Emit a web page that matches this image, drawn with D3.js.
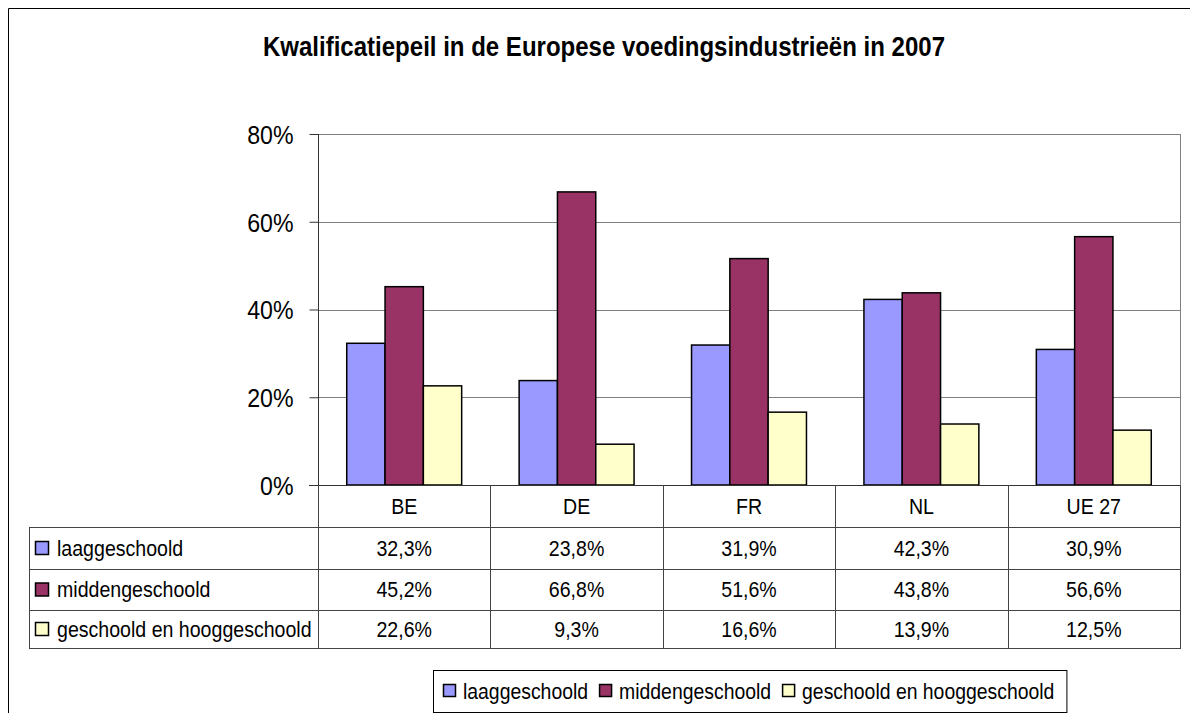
<!DOCTYPE html>
<html>
<head>
<meta charset="utf-8">
<script src="https://cdn.jsdelivr.net/npm/d3@7"></script>
<style>
  body { margin: 0; background: #fff; }
  svg text { font-family: "Liberation Sans", Arial, sans-serif; fill: #000; }
  .grid line { stroke: #808080; stroke-width: 1px; }
  .bars rect { stroke: #000; stroke-width: 1.5px; }
  .table line { stroke: #444; stroke-width: 1px; }
</style>
</head>
<body>
<svg id="chart" width="1190" height="713"></svg>
<script>
const categories = ["BE", "DE", "FR", "NL", "UE 27"];
const seriesNames = ["laaggeschoold", "middengeschoold", "geschoold en hooggeschoold"];
const laaggeschoold = [32.3, 23.8, 31.9, 42.3, 30.9];
const middengeschoold = [45.2, 66.8, 51.6, 43.8, 56.6];
const hooggeschoold = [22.6, 9.3, 16.6, 13.9, 12.5];
const yTicks = [0, 20, 40, 60, 80];
const colors = ["#9999ff", "#993366", "#ffffcc"];

const seriesValues = [laaggeschoold, middengeschoold, hooggeschoold];
const squeeze = 0.89; // the original font is a narrow sans

// squash text horizontally around its own anchor point
function narrow(sel) {
  sel.each(function() {
    const t = d3.select(this);
    const ax = +t.attr("x") || 0, ay = +t.attr("y") || 0;
    t.attr("transform", `translate(${ax},${ay}) scale(${squeeze},1) translate(${-ax},${-ay})`);
  });
}

const svg = d3.select("#chart");

// outer chart frame (only top and left visible in the picture)
svg.append("path")
  .attr("d", "M8.5,713 V8.5 H1190")
  .attr("fill", "none")
  .attr("stroke", "#000");

svg.append("text")
  .attr("x", 604)
  .attr("y", 56)
  .attr("text-anchor", "middle")
  .style("font-size", "27px")
  .style("font-weight", "bold")
  .text("Kwalificatiepeil in de Europese voedingsindustrieën in 2007")
  .call(narrow);

const plot = {left: 318, right: 1180, top: 134, bottom: 485};

const x = d3.scaleBand()
  .domain(categories)
  .range([plot.left, plot.right]);

const xInner = d3.scaleBand()
  .domain(d3.range(seriesNames.length))
  .range([0, x.bandwidth()])
  .paddingInner(0)
  .paddingOuter(0.75);

const y = d3.scaleLinear()
  .domain([0, 80])
  .range([plot.bottom, plot.top]);

// gridlines
svg.append("g")
  .attr("class", "grid")
  .selectAll("line")
  .data(yTicks.filter(d => d > 0))
  .join("line")
    .attr("x1", plot.left)
    .attr("x2", plot.right)
    .attr("y1", d => Math.round(y(d)) + 0.5)
    .attr("y2", d => Math.round(y(d)) + 0.5);

svg.append("line")
  .attr("x1", plot.right + 0.5).attr("x2", plot.right + 0.5)
  .attr("y1", plot.top).attr("y2", plot.bottom)
  .attr("stroke", "#808080");

// y axis
const yAxis = svg.append("g")
  .attr("transform", `translate(${plot.left + 0.5},0)`)
  .call(d3.axisLeft(y).tickValues(yTicks).tickSize(9).tickPadding(16).tickFormat(d => d + "%"));
yAxis.select(".domain").attr("stroke", "#333").attr("d", `M0,${plot.top}V${plot.bottom}`);
yAxis.selectAll(".tick line").attr("stroke", "#333");
yAxis.selectAll(".tick text")
  .style("font-size", "26px")
  .attr("dy", "0.36em")
  .attr("fill", "#000")
  .call(narrow);

// bars
const barData = [];
categories.forEach((c, ci) => {
  seriesValues.forEach((vals, si) => {
    barData.push({cat: c, s: si, v: vals[ci]});
  });
});

svg.append("g")
  .attr("class", "bars")
  .selectAll("rect")
  .data(barData)
  .join("rect")
    .attr("x", d => x(d.cat) + xInner(d.s))
    .attr("width", xInner.bandwidth())
    .attr("y", d => y(d.v))
    .attr("height", d => y(0) - y(d.v))
    .attr("fill", d => colors[d.s]);

// baseline
svg.append("line")
  .attr("x1", plot.left - 9).attr("x2", plot.right)
  .attr("y1", plot.bottom + 0.5).attr("y2", plot.bottom + 0.5)
  .attr("stroke", "#333");

// data table
const rowEdges = [485, 527, 569, 610, 648];
const tableLeft = 29;
const table = svg.append("g").attr("class", "table");

// horizontal rules
rowEdges.slice(1).forEach(ry => {
  table.append("line")
    .attr("x1", tableLeft).attr("x2", plot.right + 1)
    .attr("y1", ry + 0.5).attr("y2", ry + 0.5);
});
// vertical rules
const colEdges = categories.map(c => x(c)).concat([plot.right]);
colEdges.forEach(cx => {
  table.append("line")
    .attr("x1", Math.round(cx) + 0.5).attr("x2", Math.round(cx) + 0.5)
    .attr("y1", rowEdges[0]).attr("y2", rowEdges[4] + 0.5);
});
table.append("line")
  .attr("x1", tableLeft + 0.5).attr("x2", tableLeft + 0.5)
  .attr("y1", rowEdges[1]).attr("y2", rowEdges[4] + 0.5);

// header labels
table.selectAll("text.cat")
  .data(categories)
  .join("text")
    .attr("class", "cat")
    .attr("x", d => x(d) + x.bandwidth() / 2)
    .attr("y", (rowEdges[0] + rowEdges[1]) / 2)
    .attr("dy", "0.36em")
    .attr("text-anchor", "middle")
    .style("font-size", "22px")
    .text(d => d)
    .call(narrow);

const fmt = v => v.toFixed(1).replace(".", ",") + "%";

seriesNames.forEach((name, si) => {
  const cy = (rowEdges[si + 1] + rowEdges[si + 2]) / 2;
  table.append("rect")
    .attr("x", 35.5).attr("y", cy - 6.5)
    .attr("width", 13).attr("height", 13)
    .attr("fill", colors[si])
    .attr("stroke", "#000").attr("stroke-width", 1.5);
  table.append("text")
    .attr("x", 57).attr("y", cy)
    .attr("dy", "0.36em")
    .style("font-size", "22px")
    .text(name)
    .call(narrow);
  table.selectAll(null)
    .data(seriesValues[si])
    .join("text")
      .attr("x", (d, i) => x(categories[i]) + x.bandwidth() / 2)
      .attr("y", cy)
      .attr("dy", "0.36em")
      .attr("text-anchor", "middle")
      .style("font-size", "22px")
      .text(d => fmt(d))
      .call(narrow);
});

// legend
const legend = svg.append("g");
const legendBox = legend.append("rect")
  .attr("y", 670.5).attr("height", 42)
  .attr("fill", "#fff").attr("stroke", "#000");
let lx = 443;
seriesNames.forEach((name, si) => {
  legend.append("rect")
    .attr("x", lx + 0.5).attr("y", 684.5)
    .attr("width", 12).attr("height", 12)
    .attr("fill", colors[si])
    .attr("stroke", "#000").attr("stroke-width", 1.5);
  const t = legend.append("text")
    .attr("x", lx + 20).attr("y", 691)
    .attr("dy", "0.36em")
    .style("font-size", "21.8px")
    .text(name)
    .call(narrow);
  lx += 20 + t.node().getComputedTextLength() * squeeze + 11;
});
legendBox.attr("x", 433.5).attr("width", lx + 1 - 433);
</script>
</body>
</html>
